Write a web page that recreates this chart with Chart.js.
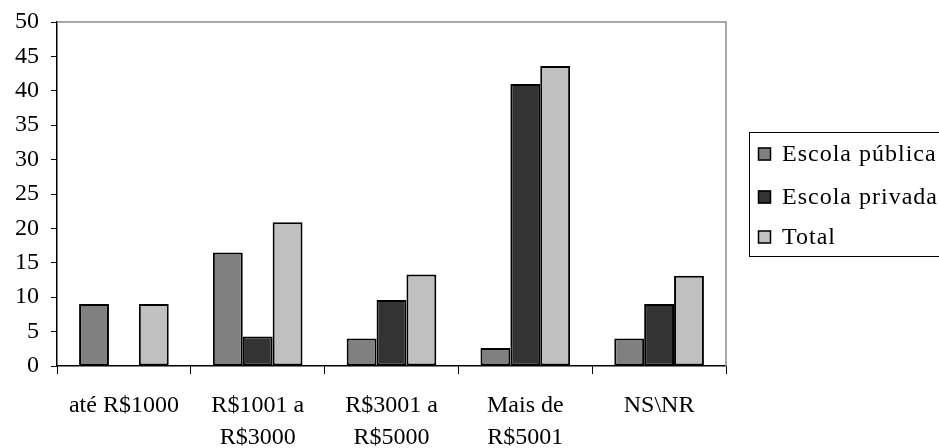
<!DOCTYPE html>
<html>
<head>
<meta charset="utf-8">
<script src="https://cdn.jsdelivr.net/npm/chart.js@4.4.1/dist/chart.umd.min.js"></script>
<style>
  html, body { margin: 0; padding: 0; background: #fff; }
  #wrap { width: 939px; height: 448px; position: relative; }
</style>
</head>
<body>
<div id="wrap"><canvas id="c" width="939" height="448"></canvas></div>
<script>
// Renda familiar por tipo de escola (%)
const categories = [
  'até R$1000',
  ['R$1001 a', 'R$3000'],
  ['R$3001 a', 'R$5000'],
  ['Mais de', 'R$5001'],
  'NS\\NR'
];
const seriesNames = ['Escola pública', 'Escola privada', 'Total'];
const escolaPublica = [9.0, 16.5, 4.0, 2.6, 4.0];
const escolaPrivada = [null, 4.3, 9.6, 41.0, 9.0];
const total = [9.0, 20.9, 13.3, 43.6, 13.1];
const yTicks = [0, 5, 10, 15, 20, 25, 30, 35, 40, 45, 50];

const seriesColors = ['#808080', '#333333', '#c0c0c0'];
const FONT = '"Liberation Serif", "Times New Roman", serif';

// Gray frame on the top and right of the plot area
const plotFrame = {
  id: 'plotFrame',
  afterDatasetsDraw(chart) {
    const { ctx, chartArea: a } = chart;
    ctx.save();
    ctx.strokeStyle = '#8c8c8c';
    ctx.lineWidth = 1.5;
    ctx.beginPath();
    ctx.moveTo(a.left, a.top);
    ctx.lineTo(a.right, a.top);
    ctx.lineTo(a.right, a.bottom);
    ctx.stroke();
    ctx.restore();
  }
};

// Boxed legend on the right side
const boxLegend = {
  id: 'boxLegend',
  afterDraw(chart) {
    const ctx = chart.ctx;
    const boxX = 749, boxY = 132, boxW = 220, boxH = 124;
    const rowY = [154, 197, 237];
    ctx.save();
    ctx.strokeStyle = '#000';
    ctx.lineWidth = 1;
    ctx.strokeRect(boxX + 0.5, boxY + 0.5, boxW, boxH);
    chart.data.datasets.forEach((ds, i) => {
      const y = rowY[i];
      ctx.fillStyle = ds.backgroundColor;
      ctx.fillRect(758, y - 6.5, 13, 13);
      ctx.strokeStyle = '#000';
      ctx.lineWidth = 1.5;
      ctx.strokeRect(758.5, y - 6, 12, 12);
      ctx.fillStyle = '#000';
      ctx.font = '24px ' + FONT;
      ctx.letterSpacing = '1px';
      ctx.textBaseline = 'middle';
      ctx.textAlign = 'left';
      ctx.fillText(ds.label, 782, y + 1);
    });
    ctx.restore();
  }
};

new Chart(document.getElementById('c'), {
  type: 'bar',
  data: {
    labels: categories,
    datasets: [
      { label: seriesNames[0], data: escolaPublica, backgroundColor: seriesColors[0] },
      { label: seriesNames[1], data: escolaPrivada, backgroundColor: seriesColors[1] },
      { label: seriesNames[2], data: total, backgroundColor: seriesColors[2] }
    ]
  },
  options: {
    responsive: false,
    animation: false,
    devicePixelRatio: 1,
    layout: { padding: { top: 22, right: 213, left: 0, bottom: 0 } },
    datasets: {
      bar: {
        categoryPercentage: 0.67,
        barPercentage: 1.0,
        borderColor: '#000',
        borderWidth: 2,
        borderSkipped: false
      }
    },
    plugins: {
      legend: { display: false },
      tooltip: { enabled: false }
    },
    scales: {
      x: {
        grid: {
          offset: true,
          drawOnChartArea: false,
          drawTicks: true,
          tickLength: 8,
          color: '#000',
          lineWidth: 1
        },
        border: { color: '#000', width: 1.5 },
        ticks: {
          color: '#000',
          font: { family: FONT, size: 24, lineHeight: 1.32 },
          padding: 16,
          maxRotation: 0,
          autoSkip: false
        },
        afterFit(scale) { scale.height = 82; }
      },
      y: {
        min: 0,
        max: 50,
        afterBuildTicks(scale) { scale.ticks = yTicks.map(v => ({ value: v })); },
        grid: {
          drawOnChartArea: false,
          drawTicks: true,
          tickLength: 6,
          color: '#000',
          lineWidth: 1
        },
        border: { color: '#000', width: 1.5 },
        ticks: {
          color: '#000',
          font: { family: FONT, size: 24, lineHeight: 0.8 },
          padding: 12
        },
        afterFit(scale) { scale.width = 57; }
      }
    }
  },
  plugins: [plotFrame, boxLegend]
});
</script>
</body>
</html>
